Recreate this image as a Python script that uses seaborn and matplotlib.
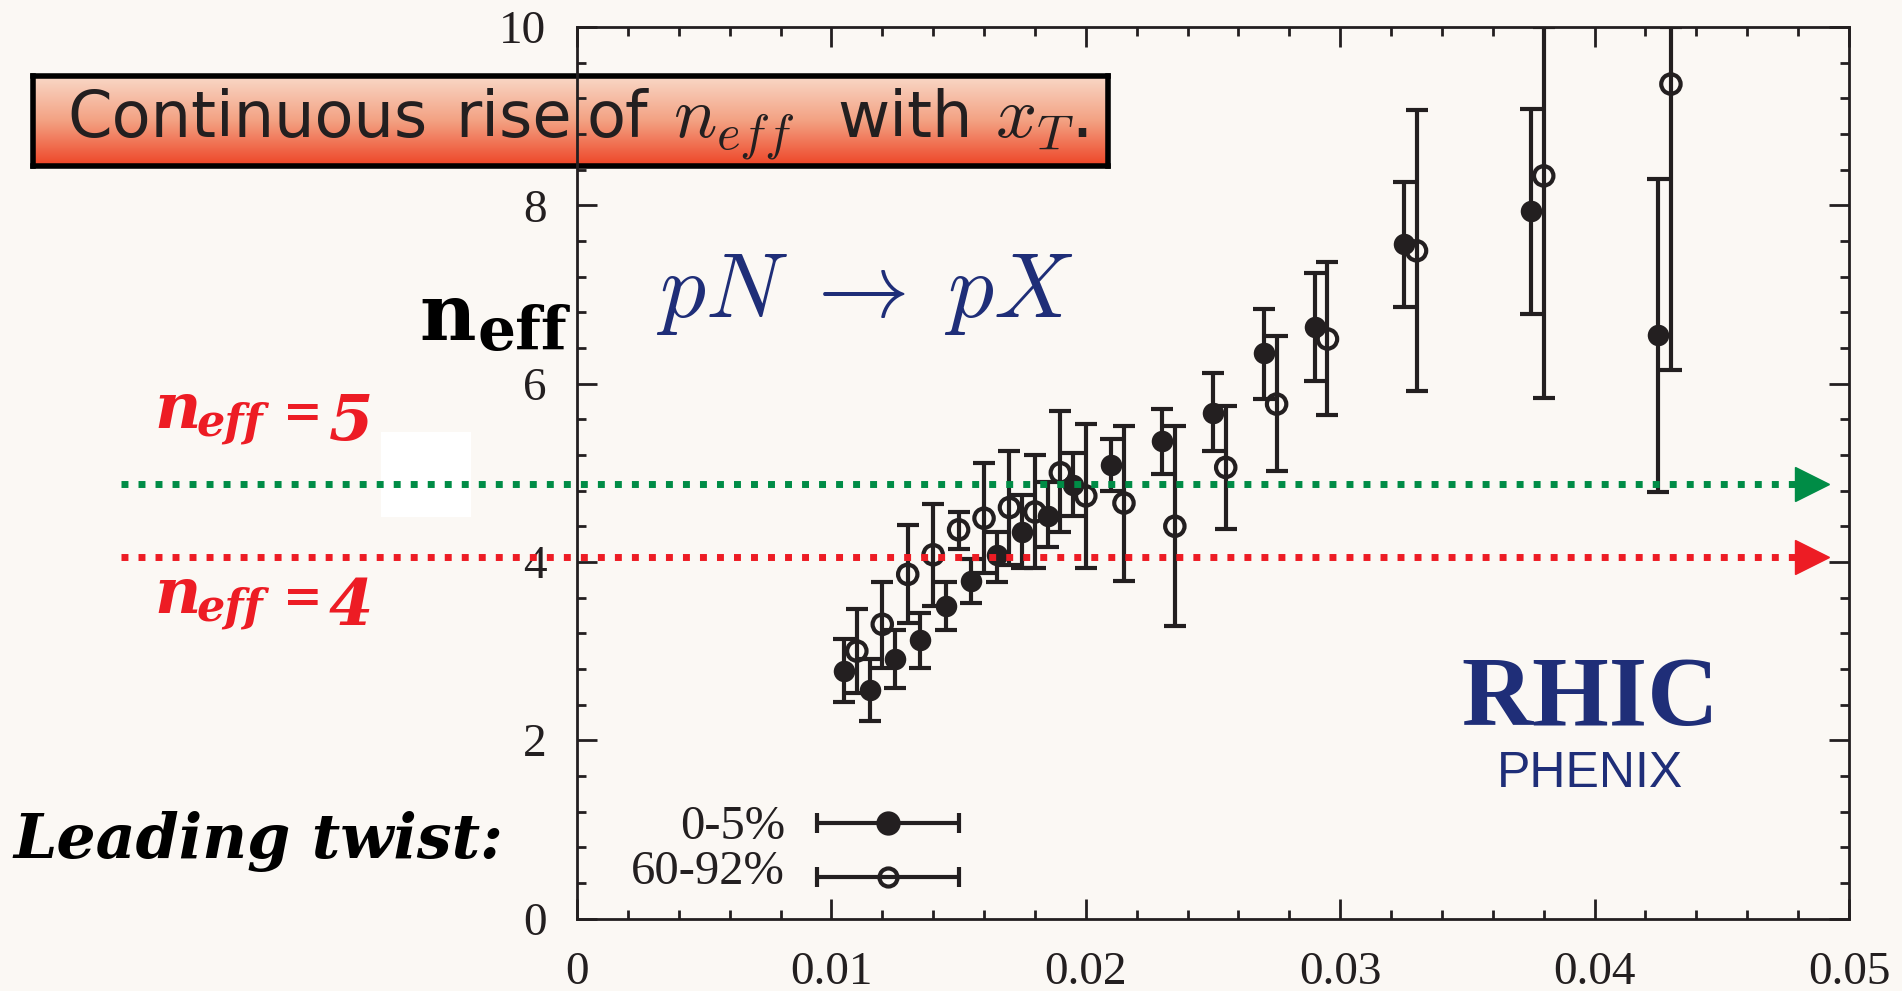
import numpy as np
import matplotlib.pyplot as plt
import seaborn as sns
from matplotlib import transforms
from matplotlib.colors import LinearSegmentedColormap
from matplotlib.patches import Rectangle
from matplotlib.ticker import FixedLocator, MultipleLocator

# 0-5% centrality (filled circles)
central_xt = [0.0105, 0.0115, 0.0125, 0.0135, 0.0145, 0.0155, 0.0165, 0.0175, 0.0185,
              0.0195, 0.0210, 0.0230, 0.0250, 0.0270, 0.0290, 0.0325, 0.0375, 0.0425]
central_neff = [2.78, 2.56, 2.91, 3.12, 3.51, 3.79, 4.08, 4.33, 4.52,
                4.86, 5.09, 5.36, 5.67, 6.34, 6.64, 7.57, 7.94, 6.54]
central_lo = [2.43, 2.21, 2.58, 2.81, 3.24, 3.54, 3.78, 3.93, 4.17,
              4.51, 4.79, 4.99, 5.24, 5.83, 6.03, 6.86, 6.78, 4.78]
central_hi = [3.13, 2.91, 3.24, 3.43, 3.78, 4.03, 4.33, 4.75, 4.90,
              5.22, 5.38, 5.71, 6.12, 6.84, 7.24, 8.26, 9.08, 8.29]

# 60-92% centrality (open circles)
periph_xt = [0.0110, 0.0120, 0.0130, 0.0140, 0.0150, 0.0160, 0.0170, 0.0180, 0.0190,
             0.0200, 0.0215, 0.0235, 0.0255, 0.0275, 0.0295, 0.0330, 0.0380, 0.0430]
periph_neff = [3.00, 3.30, 3.86, 4.08, 4.36, 4.49, 4.61, 4.56, 5.00,
               4.74, 4.66, 4.40, 5.06, 5.77, 6.50, 7.49, 8.33, 9.36]
periph_lo = [2.53, 2.81, 3.31, 3.51, 4.15, 3.87, 3.96, 3.93, 4.33,
             3.93, 3.79, 3.28, 4.37, 5.02, 5.65, 5.92, 5.84, 6.15]
periph_hi = [3.47, 3.78, 4.41, 4.65, 4.56, 5.11, 5.24, 5.20, 5.69,
             5.55, 5.52, 5.52, 5.75, 6.53, 7.36, 9.07, 10.0, 10.0]

x_ticks = [0, 0.01, 0.02, 0.03, 0.04, 0.05]
x_tick_labels = ['0', '0.01', '0.02', '0.03', '0.04', '0.05']
y_ticks = [0, 2, 4, 6, 8, 10]
y_tick_labels = ['0', '2', '4', '6', '8', '10']

# dotted guide lines (green for n_eff = 5, red for n_eff = 4)
guide_levels = [4.87, 4.05]

BG = '#FBF8F4'
INK = '#231F20'
NAVY = '#1F2E78'
RED = '#ED1C24'
GREEN = '#008C46'

sns.set_theme(style='ticks')
plt.rcParams['font.family'] = ['Liberation Serif', 'DejaVu Serif']
plt.rcParams['mathtext.fontset'] = 'cm'

W, H = 1902, 991


def fx(px):
    return px / W


def fy(py):
    return 1 - py / H


fig = plt.figure(figsize=(W / 100, H / 100), dpi=100, facecolor=BG)

# title box with vertical gradient
box = fig.add_axes([fx(33), fy(166), fx(1108) - fx(33), fy(76) - fy(166)], zorder=1)
cmap = LinearSegmentedColormap.from_list('box', ['#F9D8C7', '#F3A182', '#EE4426'])
box.imshow(np.linspace(0, 1, 256).reshape(-1, 1), aspect='auto', cmap=cmap,
           extent=[0, 1, 0, 1], origin='upper')
box.set_xticks([])
box.set_yticks([])
for s in box.spines.values():
    s.set_linewidth(4)
    s.set_color('black')
title_words = [(67, 'Continuous', 46), (455, 'rise', 46), (586, 'of', 46),
               (673, '$n_{eff}$', 52), (837, 'with', 46), (995, '$x_T$.', 52)]
for px, word, size in title_words:
    box.text(fx(px), fy(137), word, transform=fig.transFigure, fontsize=size,
             family='DejaVu Sans', color=INK, va='baseline')

# main axes
ax = fig.add_axes([fx(577), fy(918.5), fx(1849) - fx(577), fy(27) - fy(918.5)], zorder=2)
ax.set_facecolor('none')

bar_kw = dict(fmt='none', ecolor=INK, elinewidth=3.0, capsize=8, capthick=3.0, zorder=3)
ax.errorbar(central_xt, central_neff,
            yerr=[np.subtract(central_neff, central_lo), np.subtract(central_hi, central_neff)],
            **bar_kw)
ax.errorbar(periph_xt, periph_neff,
            yerr=[np.subtract(periph_neff, periph_lo), np.subtract(periph_hi, periph_neff)],
            **bar_kw)
sns.scatterplot(x=central_xt, y=central_neff, marker='o', s=240, color=INK,
                linewidth=0, ax=ax, zorder=4)
sns.scatterplot(x=periph_xt, y=periph_neff, marker='o', s=195, facecolor='none',
                edgecolor=INK, linewidth=3.0, ax=ax, zorder=4)

ax.set_xlim(0, 0.05)
ax.set_ylim(0, 10)
ax.xaxis.set_major_locator(FixedLocator(x_ticks))
ax.set_xticklabels(x_tick_labels)
ax.yaxis.set_major_locator(FixedLocator(y_ticks))
ax.set_yticklabels(y_tick_labels)
ax.xaxis.set_minor_locator(MultipleLocator(0.002))
ax.yaxis.set_minor_locator(MultipleLocator(0.4))
ax.tick_params(which='both', direction='in', top=True, right=True, color=INK,
               labelcolor=INK, width=2)
ax.tick_params(which='major', length=14.4, labelsize=34)
ax.tick_params(axis='x', which='major', pad=24)
ax.tick_params(axis='y', which='major', pad=22)
ax.tick_params(which='minor', length=6.5)
for s in ax.spines.values():
    s.set_linewidth(2)
    s.set_color(INK)
ax.set_xlabel('')
ax.set_ylabel('')

# guide lines spanning the figure width
blend = transforms.blended_transform_factory(fig.transFigure, ax.transData)
ax.add_patch(Rectangle((fx(381), fy(517)), fx(471) - fx(381), fy(432) - fy(517),
                       transform=fig.transFigure, facecolor='white', edgecolor='none',
                       clip_on=False, zorder=1))
for lvl, col in zip(guide_levels, [GREEN, RED]):
    ax.plot([fx(121), fx(1798)], [lvl, lvl], transform=blend, color=col, lw=5,
            linestyle=(0, (1, 1.45)), clip_on=False, zorder=5)
    ax.plot([fx(1812)], [lvl], transform=blend, marker='>', ms=24.5, color=col,
            linestyle='none', clip_on=False, zorder=5)

# legend drawn by hand
for ypos, face, lab, ty in [(0.1068, INK, '0-5%', 0.1026), (0.0466, 'none', '60-92%', 0.0525)]:
    ax.errorbar([0.2445], [ypos], xerr=[[0.0558]], transform=ax.transAxes, fmt='o',
                color=INK, mfc=face, mec=INK, ms=14.5 if face != 'none' else 13,
                mew=3.0, elinewidth=3.0, capsize=7.5, capthick=3.0, clip_on=False, zorder=4)
    ax.text(0.1635, ty, lab, transform=ax.transAxes, ha='right', va='center',
            fontsize=35, color=INK)

# annotations
fig.text(fx(656), fy(317), r'$pN\;\rightarrow\;pX$', fontsize=66, color=NAVY, va='baseline')
fig.text(fx(419), fy(340), 'n', fontsize=56, family='DejaVu Serif', weight='heavy',
         color='black', va='baseline')
fig.text(fx(478), fy(350), 'eff', fontsize=43, family='DejaVu Serif', weight='heavy',
         color='black', va='baseline')

for base, num in [(0, '5'), (185, '4')]:
    fig.text(fx(154), fy(428 + base), 'n', fontsize=46, family='DejaVu Serif', weight='bold',
             style='italic', color=RED, va='baseline')
    fig.text(fx(197), fy(436 + base), 'eff', fontsize=32, family='DejaVu Serif',
             weight='bold', style='italic', color=RED, va='baseline')
    fig.text(fx(283), fy(427 + base), '=', fontsize=34, family='DejaVu Serif',
             weight='bold', color=RED, va='baseline')
    fig.text(fx(329), fy(440 + base), num, fontsize=46, family='DejaVu Serif',
             weight='bold', style='italic', color=RED, va='baseline')

fig.text(fx(13), fy(858), 'Leading twist:', fontsize=44.5, family='DejaVu Serif',
         weight='bold', style='italic', color='black', va='baseline')

fig.text(fx(1590), fy(725), 'RHIC', fontsize=71, family='Liberation Serif', weight='bold',
         color=NAVY, ha='center', va='baseline')
fig.text(fx(1590), fy(787), 'PHENIX', fontsize=36, family='Liberation Sans',
         color=NAVY, ha='center', va='baseline')

fig.savefig('out.png', dpi=100, facecolor=BG)
